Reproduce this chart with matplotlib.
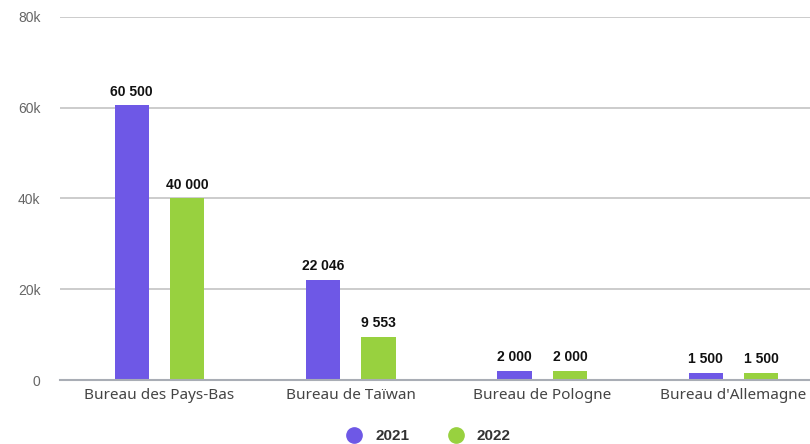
import numpy as np
import matplotlib.pyplot as plt
from matplotlib.lines import Line2D

categories = ["Bureau des Pays-Bas", "Bureau de Taïwan", "Bureau de Pologne", "Bureau d'Allemagne"]
values_2021 = [60500, 22046, 2000, 1500]
values_2022 = [40000, 9553, 2000, 1500]
series_names = ["2021", "2022"]
y_ticks = [0, 20000, 40000, 60000, 80000]
y_tick_labels = ["0", "20k", "40k", "60k", "80k"]

purple = "#6e58e6"
green = "#98d13f"


def fmt(v):
    return f"{v:,}".replace(",", " ")


fig = plt.figure(figsize=(8.1, 4.44), dpi=100)
ax = fig.add_axes([60 / 810, 1 - 380 / 444, 750 / 810, 363 / 444])

x = np.arange(len(categories))
w = 0.18
off = 0.145
b1 = ax.bar(x - off, values_2021, w, color=purple, zorder=3)
b2 = ax.bar(x + off, values_2022, w, color=green, zorder=3)

for bars, vals in ((b1, values_2021), (b2, values_2022)):
    for rect, v in zip(bars, vals):
        ax.annotate(fmt(v), (rect.get_x() + rect.get_width() / 2, v),
                    xytext=(0, 5), textcoords="offset points",
                    ha="center", va="bottom", fontsize=10, fontweight="bold",
                    family="Liberation Sans", color="#111111")

ax.set_xlim(-0.52, 3.40)
ax.set_ylim(0, 80000)
ax.set_yticks(y_ticks)
ax.set_yticklabels(y_tick_labels, family="Liberation Sans", fontsize=10, color="#666666")
ax.set_xticks(x)
ax.set_xticklabels(categories, family="Noto Sans", fontsize=11, color="#444444")
ax.tick_params(axis="y", length=0, pad=14)
ax.tick_params(axis="x", length=0, pad=6)
ax.yaxis.grid(True, color="#c4c4c4", linewidth=1.2, zorder=0)
for s in ("top", "right", "left"):
    ax.spines[s].set_visible(False)
ax.spines["bottom"].set_color("#a9adb5")
ax.spines["bottom"].set_linewidth(1.5)
ax.spines["bottom"].set_zorder(4)

handles = [Line2D([], [], marker="o", linestyle="", markersize=11, color=c)
           for c in (purple, green)]
leg = fig.legend(handles, series_names, loc="center", bbox_to_anchor=(425 / 810, 1 - 436 / 444),
                 ncol=2, frameon=False, handletextpad=0.4, columnspacing=2.0,
                 prop={"family": "Liberation Sans", "weight": "bold", "size": 11})
for t in leg.get_texts():
    t.set_color("#333333")

fig.savefig("out.png", dpi=100, facecolor="white")
